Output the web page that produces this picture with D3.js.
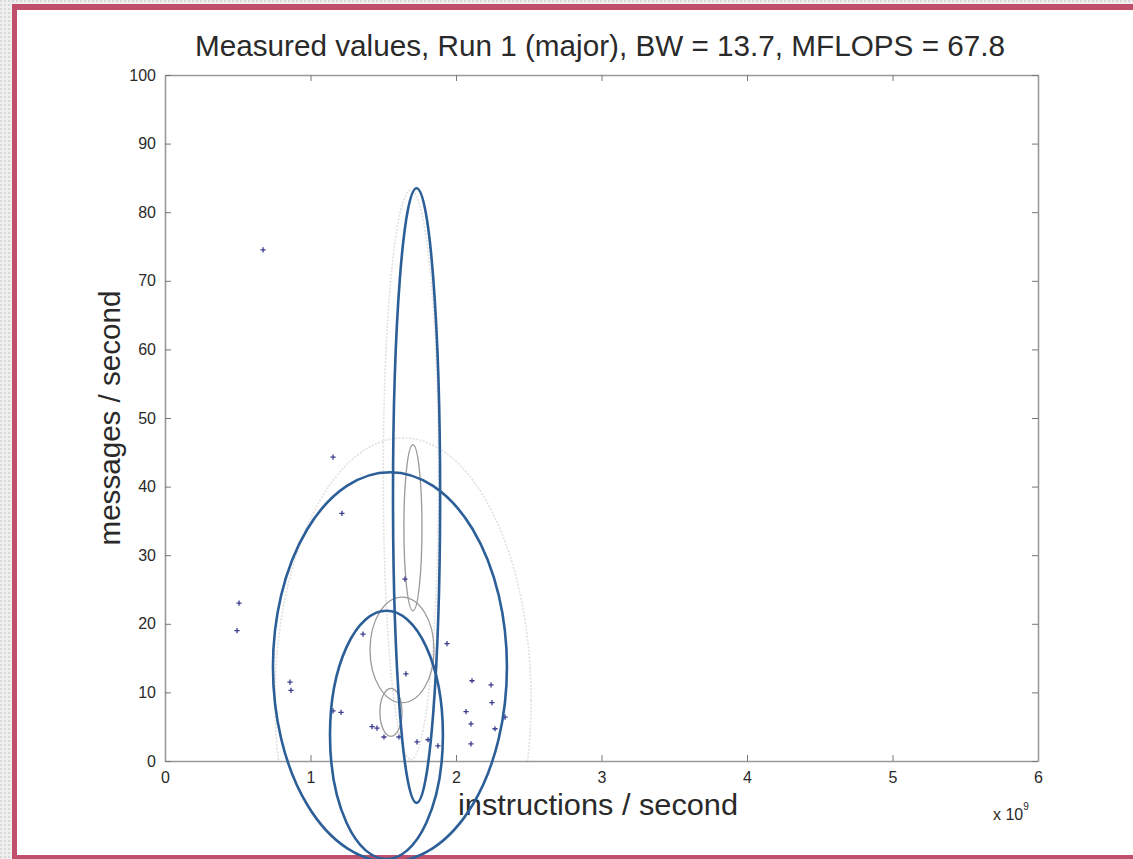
<!DOCTYPE html>
<html><head><meta charset="utf-8">
<script src="https://cdn.jsdelivr.net/npm/d3@7"></script>
<style>body{margin:0;background:#fff}svg{display:block}</style>
</head><body>
<script>
// ---- data ----
const titleText = "Measured values, Run 1 (major), BW = 13.7, MFLOPS = 67.8";
const xLabelText = "instructions / second";
const yLabelText = "messages / second";
const xTicks = [0, 1, 2, 3, 4, 5, 6];
const yTicks = [0, 10, 20, 30, 40, 50, 60, 70, 80, 90, 100];
const xExponent = "9";

// measured points (instructions/second x 1e9, messages/second)
const pointsX = [0.674, 1.155, 1.216, 0.509, 0.495, 0.859, 0.866, 1.155, 1.210, 1.361,
  1.649, 1.938, 1.656, 2.110, 2.241, 2.247, 2.069, 2.103, 2.268, 2.337,
  2.103, 1.423, 1.457, 1.505, 1.608, 1.732, 1.808, 1.876];
const pointsY = [74.5, 44.3, 36.1, 23.0, 19.0, 11.5, 10.3, 7.3, 7.1, 18.5,
  26.5, 17.1, 12.7, 11.7, 11.1, 8.5, 7.2, 5.4, 4.7, 6.4,
  2.5, 5.0, 4.8, 3.5, 3.5, 2.8, 3.1, 2.2];

// annotation ellipses (blue, hand-drawn) : centre and radii in data units
const blueCx = [1.729, 1.546, 1.522];
const blueCy = [38.7, 13.7, 3.8];
const blueRx = [0.162, 0.804, 0.388];
const blueRy = [44.8, 28.4, 18.1];

// density contours (dark grey)
const contourCx = [1.704, 1.629, 1.553];
const contourCy = [34.0, 16.2, 7.1];
const contourRx = [0.062, 0.22, 0.076];
const contourRy = [12.1, 7.7, 3.5];

// faint outer contours (light grey)
const faintCx = [1.636, 1.69];
const faintCy = [8.9, 41.7];
const faintRx = [0.88, 0.19];
const faintRy = [38.2, 41.5];

// ---- drawing ----
const W = 1133, H = 859;
const svg = d3.select("body").append("svg").attr("width", W).attr("height", H);

const defs = svg.append("defs");
const pat = defs.append("pattern").attr("id", "dots").attr("width", 4).attr("height", 4)
  .attr("patternUnits", "userSpaceOnUse");
pat.append("rect").attr("width", 4).attr("height", 4).attr("fill", "#efefef");
pat.append("circle").attr("cx", 1).attr("cy", 1).attr("r", 0.9).attr("fill", "#cfcfcf");
svg.append("rect").attr("x", 0).attr("y", 0).attr("width", 12).attr("height", H).attr("fill", "url(#dots)");
svg.append("rect").attr("x", 0).attr("y", 0).attr("width", W).attr("height", 4).attr("fill", "url(#dots)");
const red = "#bf4f6a";
svg.append("rect").attr("x", 12).attr("y", 4).attr("width", 5).attr("height", H - 4).attr("fill", red);
svg.append("rect").attr("x", 12).attr("y", 4).attr("width", W - 12).attr("height", 6).attr("fill", red);
svg.append("rect").attr("x", 12).attr("y", 855).attr("width", W - 12).attr("height", 4).attr("fill", red);

const x = d3.scaleLinear().domain([0, 6]).range([165, 1038]);
const y = d3.scaleLinear().domain([0, 100]).range([761, 75]);

defs.append("clipPath").attr("id", "plotclip").append("rect")
  .attr("x", x(0)).attr("y", y(100)).attr("width", x(6) - x(0)).attr("height", y(0) - y(100));

function ellipses(g, cx, cy, rx, ry) {
  return g.selectAll("ellipse").data(cx.map((c, i) => i)).join("ellipse")
    .attr("cx", i => x(cx[i])).attr("cy", i => y(cy[i]))
    .attr("rx", i => x(rx[i]) - x(0)).attr("ry", i => y(0) - y(ry[i]))
    .attr("fill", "none");
}

// faint contours
ellipses(svg.append("g").attr("clip-path", "url(#plotclip)"), faintCx, faintCy, faintRx, faintRy)
  .attr("stroke", "#e0e0e0").attr("stroke-width", 1.6).attr("stroke-dasharray", "2,1.5");
// grey contours
ellipses(svg.append("g").attr("clip-path", "url(#plotclip)"), contourCx, contourCy, contourRx, contourRy)
  .attr("stroke", "#9a9a9a").attr("stroke-width", 1.3);

// axes
const fontTicks = "'Liberation Sans', Arial, sans-serif";
function styleAxis(g) {
  g.select(".domain").attr("stroke", "#9a9a9a").attr("stroke-width", 1.6);
  g.selectAll(".tick line").attr("stroke", "#777").attr("stroke-width", 1);
  g.selectAll(".tick text").attr("fill", "#2a2a2a").attr("font-size", 16)
    .attr("font-family", fontTicks);
}
svg.append("g").attr("transform", `translate(0,${y(0)})`)
  .call(d3.axisBottom(x).tickValues(xTicks).tickFormat(d3.format("d")).tickSizeInner(-6).tickSizeOuter(0).tickPadding(11))
  .call(styleAxis);
svg.append("g").attr("transform", `translate(0,${y(100)})`)
  .call(d3.axisTop(x).tickValues(xTicks).tickFormat("").tickSizeInner(-6).tickSizeOuter(0))
  .call(styleAxis);
svg.append("g").attr("transform", `translate(${x(0)},0)`)
  .call(d3.axisLeft(y).tickValues(yTicks).tickFormat(d3.format("d")).tickSizeInner(-6).tickSizeOuter(0).tickPadding(9))
  .call(styleAxis);
svg.append("g").attr("transform", `translate(${x(6)},0)`)
  .call(d3.axisRight(y).tickValues(yTicks).tickFormat("").tickSizeInner(-6).tickSizeOuter(0))
  .call(styleAxis);

// points as '+'
const pts = svg.append("g").attr("stroke", "#3c3c90").attr("stroke-width", 1.3);
pts.selectAll("path").data(pointsX.map((v, i) => i)).join("path")
  .attr("d", i => {
    const px = x(pointsX[i]), py = y(pointsY[i]), s = 2.6;
    return `M${px - s},${py}H${px + s}M${px},${py - s}V${py + s}`;
  });

// texts
const fontMain = "'Liberation Sans', Arial, Helvetica, sans-serif";
svg.append("text").attr("x", 600).attr("y", 56).attr("text-anchor", "middle")
  .attr("font-family", fontMain).attr("font-size", 29).attr("fill", "#2a2a2a")
  .attr("textLength", 810).attr("lengthAdjust", "spacingAndGlyphs").text(titleText);
svg.append("text").attr("x", 598).attr("y", 815).attr("text-anchor", "middle")
  .attr("font-family", fontMain).attr("font-size", 29).attr("fill", "#2a2a2a")
  .attr("textLength", 280).attr("lengthAdjust", "spacingAndGlyphs").text(xLabelText);
svg.append("text").attr("transform", "translate(120,418) rotate(-90)").attr("text-anchor", "middle")
  .attr("font-family", fontMain).attr("font-size", 29).attr("fill", "#2a2a2a")
  .attr("textLength", 255).attr("lengthAdjust", "spacingAndGlyphs").text(yLabelText);
const ex = svg.append("text").attr("x", 993).attr("y", 820)
  .attr("font-family", fontTicks).attr("font-size", 16).attr("fill", "#2a2a2a");
ex.append("tspan").text("x 10");
ex.append("tspan").attr("font-size", 10).attr("dy", -10).text(xExponent);

// blue annotation ellipses on top
ellipses(svg.append("g"), blueCx, blueCy, blueRx, blueRy)
  .attr("stroke", "#2c5e98").attr("stroke-width", 2.6);
</script>
</body></html>
